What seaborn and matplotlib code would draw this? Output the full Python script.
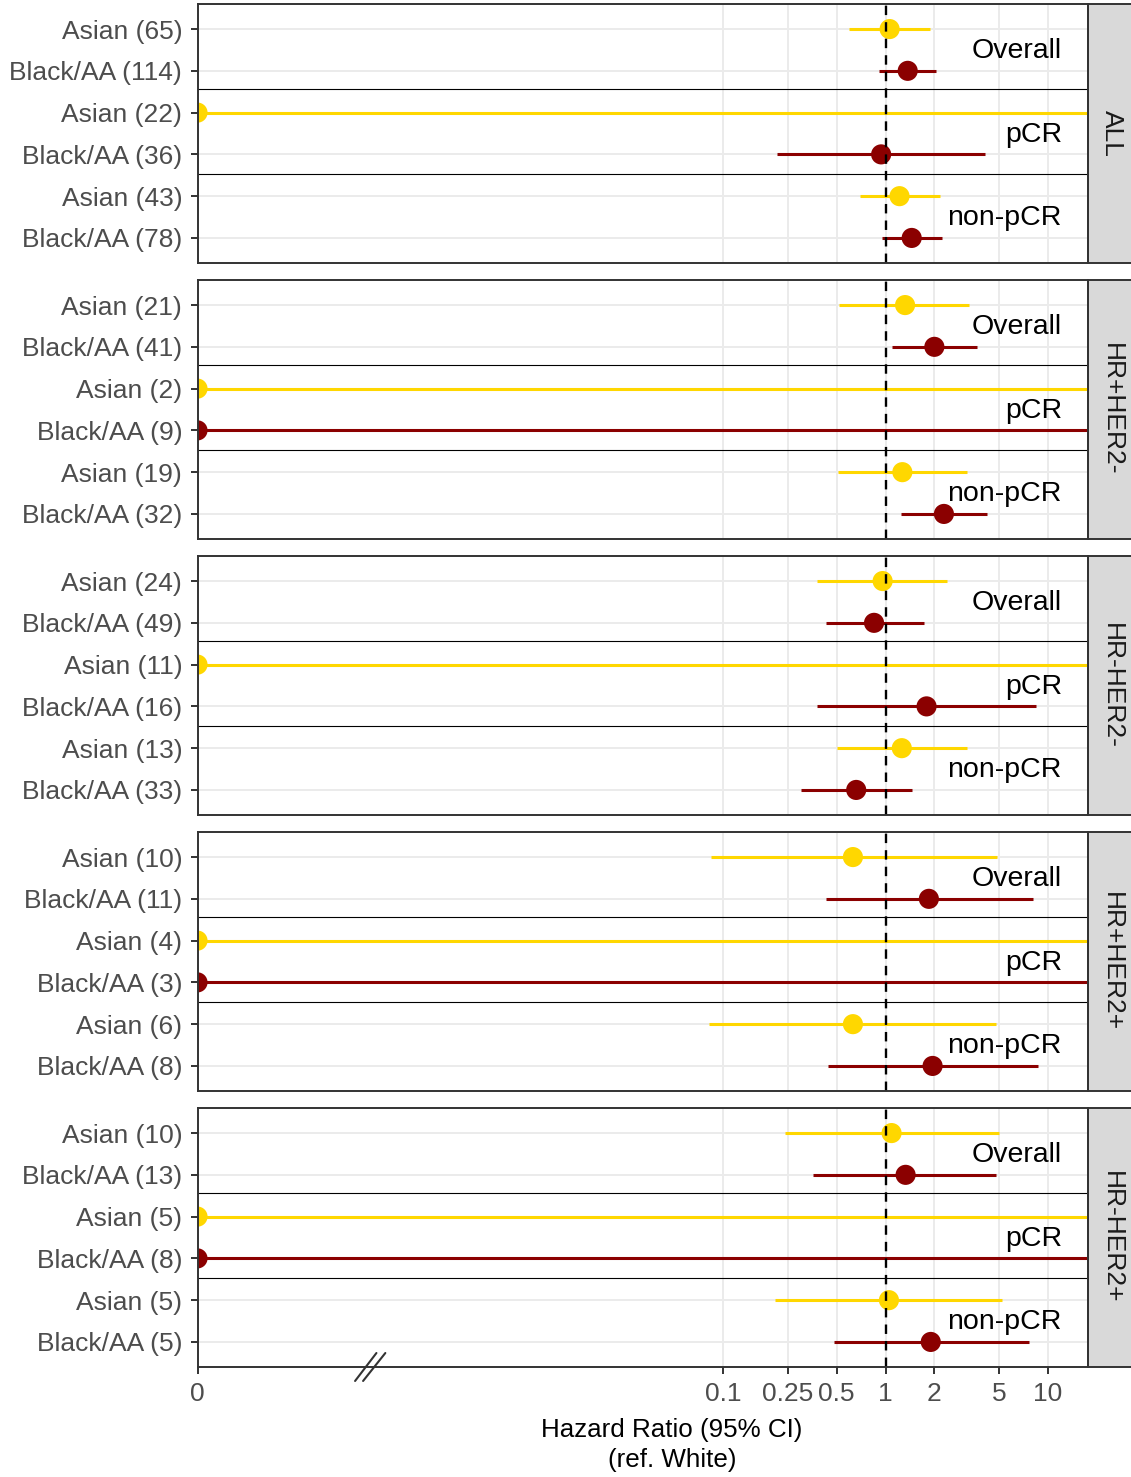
import numpy as np
import pandas as pd
import matplotlib
matplotlib.use('Agg')
import matplotlib.pyplot as plt
import seaborn as sns
from matplotlib.patches import Rectangle
from matplotlib.transforms import blended_transform_factory

# subtypes (facet rows) and the two races inside each outcome group
subtypes = ['ALL', 'HR+HER2-', 'HR-HER2-', 'HR+HER2+', 'HR-HER2+']
groups = ['Overall', 'pCR', 'non-pCR']
races = ['Asian', 'Black/AA']

# order in each row: Overall Asian, Overall Black, pCR Asian, pCR Black, non-pCR Asian, non-pCR Black
n_pat = [
    [65, 114, 22, 36, 43, 78],
    [21, 41, 2, 9, 19, 32],
    [24, 49, 11, 16, 13, 33],
    [10, 11, 4, 3, 6, 8],
    [10, 13, 5, 8, 5, 5],
]
hr = [
    [1.06, 1.37, 0, 0.94, 1.22, 1.45],
    [1.32, 2.00, 0, 0, 1.27, 2.29],
    [0.96, 0.85, 0, 1.79, 1.26, 0.66],
    [0.63, 1.85, 0, 0, 0.63, 1.95],
    [1.09, 1.33, 0, 0, 1.05, 1.90],
]
ci_low = [
    [0.60, 0.91, 0, 0.214, 0.70, 0.95],
    [0.52, 1.09, 0, 0, 0.51, 1.24],
    [0.38, 0.43, 0, 0.38, 0.50, 0.30],
    [0.084, 0.43, 0, 0, 0.082, 0.44],
    [0.24, 0.36, 0, 0, 0.21, 0.48],
]
ci_high = [
    [1.88, 2.06, np.inf, 4.1, 2.16, 2.24],
    [3.27, 3.65, np.inf, np.inf, 3.16, 4.2],
    [2.38, 1.73, np.inf, 8.43, 3.16, 1.45],
    [4.84, 8.15, np.inf, np.inf, 4.80, 8.67],
    [5.0, 4.77, np.inf, np.inf, 5.2, 7.67],
]

x_ticks = [0, 0.1, 0.25, 0.5, 1, 2, 5, 10]
x_ticklabels = ['0', '0.1', '0.25', '0.5', '1', '2', '5', '10']

palette = {'Asian': '#FFD700', 'Black/AA': '#8B0000'}

# tabela longa
rows = []
for si, st in enumerate(subtypes):
    for gi, g in enumerate(groups):
        for ri, r in enumerate(races):
            k = gi * 2 + ri
            rows.append(dict(subtype=st, group=g, race=r, n=n_pat[si][k],
                             hr=hr[si][k], lo=ci_low[si][k], hi=ci_high[si][k], row=k + 1))
df = pd.DataFrame(rows)

sns.set_theme(style='white')
plt.rcParams['font.family'] = ['Liberation Sans', 'DejaVu Sans']

# log scale where 0 is pinned near the left edge (broken axis)
ZERO_LOG = -4.238
XMIN = 10 ** -4.248
XMAX = 17.6


def fwd(x):
    x = np.asarray(x, dtype=float)
    safe = np.where(x > 0, x, 1.0)
    return np.where(x > 0, np.log10(safe), ZERO_LOG)


def inv(y):
    return np.power(10.0, y)


W, H = 1131, 1477
fig, axs = plt.subplots(5, 1, figsize=(W / 100, H / 100), dpi=100, sharex=True)
fig.subplots_adjust(left=197.5 / W, right=1087.7 / W, top=1 - 4 / H, bottom=1 - 1367 / H,
                    hspace=17 / 259)

for si, st in enumerate(subtypes):
    ax = axs[si]
    d = df[df['subtype'] == st]
    ax.set_xscale('function', functions=(fwd, inv))

    hi_clip = np.minimum(d['hi'].values, XMAX * 3)
    ax.hlines(d['row'], d['lo'], hi_clip, colors=d['race'].map(palette).tolist(),
              lw=2.2, zorder=3)
    sns.scatterplot(data=d, x='hr', y='row', hue='race', palette=palette, s=210,
                    linewidth=0, legend=False, ax=ax, zorder=4)

    ax.axvline(1, color='black', ls=(0, (4, 3)), lw=1.7, zorder=5)
    for yy in [2.43, 4.46]:
        ax.axhline(yy, color='black', lw=0.8, zorder=2)

    tr = blended_transform_factory(ax.transAxes, ax.transData)
    for yy, g in zip([1.52, 3.54, 5.53], groups):
        ax.text(0.971, yy, g, transform=tr, ha='right', va='center', fontsize=20.5,
                color='black', zorder=6)

    ax.set_xlim(XMIN, XMAX)
    ax.set_ylim(6.6, 0.4)
    ax.set_yticks(d['row'])
    ax.set_yticklabels([f'{r} ({n})' for r, n in zip(d['race'], d['n'])])
    ax.set_xticks(x_ticks)
    ax.set_xticklabels(x_ticklabels)
    ax.minorticks_off()
    ax.set_ylabel('')
    ax.set_xlabel('')

    ax.grid(True, color='#EBEBEB', lw=1.4)
    ax.set_axisbelow(True)
    for sp in ax.spines.values():
        sp.set_color('#333333')
        sp.set_linewidth(1.4)
        sp.set_zorder(7)
    ax.tick_params(axis='both', colors='#333333', labelcolor='#4D4D4D', labelsize=19,
                   length=5, width=1.4, pad=6, left=True, bottom=True)

    # faixa cinza do facet
    ax.add_patch(Rectangle((1.0, 0), 0.06, 1, transform=ax.transAxes, clip_on=False,
                           facecolor='#D9D9D9', edgecolor='#333333', lw=1.4))
    ax.text(1.027, 0.5, st, transform=ax.transAxes, rotation=-90, ha='center', va='center',
            fontsize=19, color='#1A1A1A')

    if si < len(subtypes) - 1:
        ax.tick_params(axis='x', bottom=False, labelbottom=False)

ax = axs[-1]
ax.set_xlabel('Hazard Ratio (95% CI)\n(ref. White)', fontsize=18.75, color='black',
              linespacing=1.35)
ax.xaxis.set_label_coords(0.533, -0.195)

# marcas de quebra no eixo x
for x0, x1 in [(0.177, 0.201), (0.186, 0.211)]:
    ax.plot([x0, x1], [-0.054, 0.054], transform=ax.transAxes, clip_on=False,
            color='#333333', lw=1.5, zorder=8)

fig.savefig('out.png', dpi=100)
